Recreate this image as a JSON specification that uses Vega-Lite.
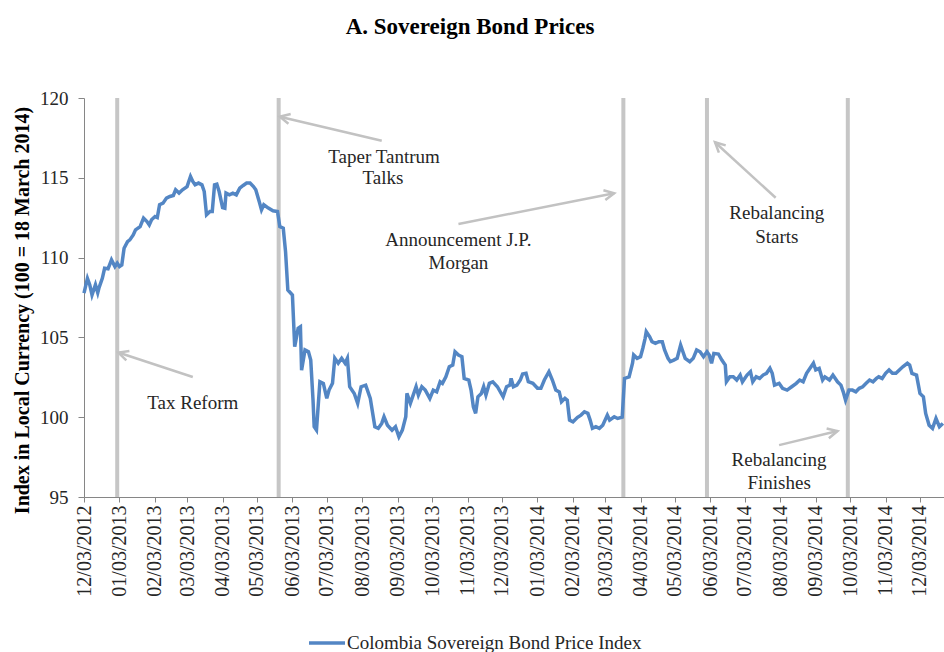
{
  "$schema": "https://vega.github.io/schema/vega-lite/v6.json",
  "width": 860,
  "height": 399,
  "autosize": "none",
  "padding": {"left": 84, "top": 98, "right": 0, "bottom": 155},
  "background": "white",
  "config": {
    "view": {"stroke": null},
    "font": "Liberation Serif",
    "axisX": {
      "domainColor": "#868686", "domainWidth": 1, "tickColor": "#868686", "tickSize": 5,
      "labelFont": "Liberation Serif", "labelFontSize": 20, "labelColor": "#262626",
      "labelAngle": -90, "labelPadding": 3, "labelOverlap": false, "labelBound": false, "labelFlush": false, "grid": false
    },
    "axisY": {
      "domainColor": "#868686", "domainWidth": 1, "tickColor": "#868686", "tickSize": 6,
      "labelFont": "Liberation Serif", "labelFontSize": 19, "labelColor": "#262626", "labelPadding": 10,
      "grid": false, "titleFont": "Liberation Serif", "titleFontSize": 20, "titleFontWeight": "bold",
      "titleColor": "#000000", "titleX": -56, "titleY": 212, "titleAngle": -90, "titleBaseline": "alphabetic", "titleAlign": "center"
    }
  },
  "title": {
    "text": "A. Sovereign Bond Prices", "font": "Liberation Serif", "fontSize": 23, "fontWeight": "bold",
    "color": "#000000", "anchor": "middle", "dx": -44, "offset": 32, "baseline": "alphabetic"
  },
  "datasets": {
    "events": [
      {"date": "2013-01-01", "event": "Tax Reform"},
      {"date": "2013-05-22", "event": "Taper Tantrum Talks"},
      {"date": "2014-03-19", "event": "Announcement J.P. Morgan"},
      {"date": "2014-05-31", "event": "Rebalancing Starts"},
      {"date": "2014-10-01", "event": "Rebalancing Finishes"}
    ],
    "arrows": [
      {"id": "taper", "date": "2013-08-20", "value": 117.32, "date2": "2013-05-23", "value2": 118.83},
      {"id": "tax", "date": "2013-03-08", "value": 102.52, "date2": "2013-01-02", "value2": 104.05},
      {"id": "jpm", "date": "2013-10-26", "value": 112.11, "date2": "2014-03-11", "value2": 114.03},
      {"id": "rebs", "date": "2014-07-30", "value": 113.75, "date2": "2014-06-07", "value2": 117.23},
      {"id": "rebf", "date": "2014-08-02", "value": 98.25, "date2": "2014-09-22", "value2": 99.13}
    ],
    "labels": [
      {"date": "2013-08-22", "value": 116.32, "text": "Taper Tantrum"},
      {"date": "2013-08-21", "value": 115.0, "text": "Talks"},
      {"date": "2013-03-08", "value": 100.88, "text": "Tax Reform"},
      {"date": "2013-10-26", "value": 111.11, "text": "Announcement J.P."},
      {"date": "2013-10-26", "value": 109.69, "text": "Morgan"},
      {"date": "2014-07-31", "value": 112.79, "text": "Rebalancing"},
      {"date": "2014-07-31", "value": 111.32, "text": "Starts"},
      {"date": "2014-08-02", "value": 97.31, "text": "Rebalancing"},
      {"date": "2014-08-02", "value": 95.88, "text": "Finishes"}
    ],
    "series": [
      {"date": "2012-12-03", "value": 107.77}, {"date": "2012-12-06", "value": 108.7}, {"date": "2012-12-08", "value": 108.3},
      {"date": "2012-12-10", "value": 107.66}, {"date": "2012-12-13", "value": 108.3}, {"date": "2012-12-15", "value": 107.8},
      {"date": "2012-12-16", "value": 108.08}, {"date": "2012-12-19", "value": 108.7}, {"date": "2012-12-21", "value": 109.33},
      {"date": "2012-12-24", "value": 109.3}, {"date": "2012-12-27", "value": 109.86}, {"date": "2012-12-30", "value": 109.44},
      {"date": "2013-01-01", "value": 109.65}, {"date": "2013-01-03", "value": 109.44}, {"date": "2013-01-05", "value": 109.54},
      {"date": "2013-01-07", "value": 110.59}, {"date": "2013-01-10", "value": 111.0}, {"date": "2013-01-12", "value": 111.11},
      {"date": "2013-01-15", "value": 111.42}, {"date": "2013-01-17", "value": 111.74}, {"date": "2013-01-21", "value": 111.94},
      {"date": "2013-01-24", "value": 112.47}, {"date": "2013-01-27", "value": 112.26}, {"date": "2013-01-29", "value": 112.05},
      {"date": "2013-01-31", "value": 112.37}, {"date": "2013-02-03", "value": 112.57}, {"date": "2013-02-05", "value": 112.51},
      {"date": "2013-02-07", "value": 113.31}, {"date": "2013-02-10", "value": 113.41}, {"date": "2013-02-13", "value": 113.73},
      {"date": "2013-02-16", "value": 113.83}, {"date": "2013-02-19", "value": 113.89}, {"date": "2013-02-21", "value": 114.25},
      {"date": "2013-02-24", "value": 114.04}, {"date": "2013-02-27", "value": 114.25}, {"date": "2013-03-03", "value": 114.45},
      {"date": "2013-03-06", "value": 115.08}, {"date": "2013-03-08", "value": 114.77}, {"date": "2013-03-10", "value": 114.56},
      {"date": "2013-03-13", "value": 114.67}, {"date": "2013-03-16", "value": 114.56}, {"date": "2013-03-18", "value": 114.14},
      {"date": "2013-03-20", "value": 112.68}, {"date": "2013-03-23", "value": 112.89}, {"date": "2013-03-25", "value": 112.89},
      {"date": "2013-03-27", "value": 114.56}, {"date": "2013-03-29", "value": 114.6}, {"date": "2013-03-31", "value": 114.14},
      {"date": "2013-04-03", "value": 113.14}, {"date": "2013-04-05", "value": 113.1}, {"date": "2013-04-06", "value": 114.04},
      {"date": "2013-04-09", "value": 113.93}, {"date": "2013-04-12", "value": 114.04}, {"date": "2013-04-15", "value": 113.93},
      {"date": "2013-04-18", "value": 114.35}, {"date": "2013-04-21", "value": 114.52}, {"date": "2013-04-24", "value": 114.67},
      {"date": "2013-04-27", "value": 114.67}, {"date": "2013-04-30", "value": 114.45}, {"date": "2013-05-02", "value": 114.25},
      {"date": "2013-05-05", "value": 113.51}, {"date": "2013-05-07", "value": 112.99}, {"date": "2013-05-09", "value": 113.31},
      {"date": "2013-05-13", "value": 113.1}, {"date": "2013-05-17", "value": 112.93}, {"date": "2013-05-21", "value": 112.89},
      {"date": "2013-05-23", "value": 111.94}, {"date": "2013-05-26", "value": 111.84}, {"date": "2013-05-28", "value": 110.38},
      {"date": "2013-05-30", "value": 107.97}, {"date": "2013-06-03", "value": 107.66}, {"date": "2013-06-05", "value": 104.42},
      {"date": "2013-06-08", "value": 105.57}, {"date": "2013-06-10", "value": 105.67}, {"date": "2013-06-11", "value": 102.95},
      {"date": "2013-06-14", "value": 104.21}, {"date": "2013-06-17", "value": 104.1}, {"date": "2013-06-19", "value": 103.58},
      {"date": "2013-06-21", "value": 101.07}, {"date": "2013-06-22", "value": 99.4}, {"date": "2013-06-24", "value": 99.19},
      {"date": "2013-06-27", "value": 102.22}, {"date": "2013-06-30", "value": 102.12}, {"date": "2013-07-03", "value": 101.18},
      {"date": "2013-07-05", "value": 101.7}, {"date": "2013-07-08", "value": 102.12}, {"date": "2013-07-10", "value": 103.69},
      {"date": "2013-07-13", "value": 103.38}, {"date": "2013-07-16", "value": 103.69}, {"date": "2013-07-19", "value": 103.38},
      {"date": "2013-07-21", "value": 103.69}, {"date": "2013-07-23", "value": 101.91}, {"date": "2013-07-27", "value": 101.49},
      {"date": "2013-07-30", "value": 100.87}, {"date": "2013-08-02", "value": 101.91}, {"date": "2013-08-06", "value": 102.01},
      {"date": "2013-08-10", "value": 101.18}, {"date": "2013-08-14", "value": 99.4}, {"date": "2013-08-17", "value": 99.3},
      {"date": "2013-08-20", "value": 99.61}, {"date": "2013-08-22", "value": 100.03}, {"date": "2013-08-25", "value": 99.5},
      {"date": "2013-08-29", "value": 99.19}, {"date": "2013-09-01", "value": 99.4}, {"date": "2013-09-04", "value": 98.77},
      {"date": "2013-09-07", "value": 99.19}, {"date": "2013-09-10", "value": 100.03}, {"date": "2013-09-11", "value": 101.49},
      {"date": "2013-09-14", "value": 100.87}, {"date": "2013-09-19", "value": 101.91}, {"date": "2013-09-21", "value": 101.39},
      {"date": "2013-09-24", "value": 101.91}, {"date": "2013-09-27", "value": 101.7}, {"date": "2013-10-01", "value": 101.18},
      {"date": "2013-10-04", "value": 101.7}, {"date": "2013-10-07", "value": 101.59}, {"date": "2013-10-10", "value": 102.22},
      {"date": "2013-10-12", "value": 102.12}, {"date": "2013-10-15", "value": 102.53}, {"date": "2013-10-18", "value": 103.16},
      {"date": "2013-10-21", "value": 103.27}, {"date": "2013-10-23", "value": 104.1}, {"date": "2013-10-26", "value": 103.89},
      {"date": "2013-10-29", "value": 103.79}, {"date": "2013-10-31", "value": 102.43}, {"date": "2013-11-04", "value": 102.33},
      {"date": "2013-11-06", "value": 101.7}, {"date": "2013-11-08", "value": 100.65}, {"date": "2013-11-10", "value": 100.24},
      {"date": "2013-11-12", "value": 101.28}, {"date": "2013-11-15", "value": 101.49}, {"date": "2013-11-17", "value": 101.91},
      {"date": "2013-11-19", "value": 101.39}, {"date": "2013-11-22", "value": 102.12}, {"date": "2013-11-25", "value": 102.22},
      {"date": "2013-11-29", "value": 101.91}, {"date": "2013-12-04", "value": 101.28}, {"date": "2013-12-07", "value": 101.91},
      {"date": "2013-12-10", "value": 102.01}, {"date": "2013-12-11", "value": 102.43}, {"date": "2013-12-13", "value": 101.91},
      {"date": "2013-12-16", "value": 102.01}, {"date": "2013-12-19", "value": 102.33}, {"date": "2013-12-21", "value": 102.7},
      {"date": "2013-12-24", "value": 102.75}, {"date": "2013-12-26", "value": 102.22}, {"date": "2013-12-30", "value": 102.12},
      {"date": "2014-01-03", "value": 101.81}, {"date": "2014-01-06", "value": 101.81}, {"date": "2014-01-09", "value": 102.33},
      {"date": "2014-01-13", "value": 102.85}, {"date": "2014-01-16", "value": 102.33}, {"date": "2014-01-19", "value": 101.7},
      {"date": "2014-01-22", "value": 101.59}, {"date": "2014-01-24", "value": 100.97}, {"date": "2014-01-27", "value": 101.18},
      {"date": "2014-01-29", "value": 101.07}, {"date": "2014-01-31", "value": 99.82}, {"date": "2014-02-03", "value": 99.71},
      {"date": "2014-02-07", "value": 99.99}, {"date": "2014-02-10", "value": 100.13}, {"date": "2014-02-13", "value": 100.34},
      {"date": "2014-02-16", "value": 100.24}, {"date": "2014-02-18", "value": 99.82}, {"date": "2014-02-20", "value": 99.3},
      {"date": "2014-02-23", "value": 99.4}, {"date": "2014-02-26", "value": 99.3}, {"date": "2014-03-01", "value": 99.5},
      {"date": "2014-03-05", "value": 100.13}, {"date": "2014-03-07", "value": 99.82}, {"date": "2014-03-11", "value": 100.03},
      {"date": "2014-03-14", "value": 99.92}, {"date": "2014-03-18", "value": 100.0}, {"date": "2014-03-20", "value": 102.43},
      {"date": "2014-03-24", "value": 102.53}, {"date": "2014-03-27", "value": 103.38}, {"date": "2014-03-28", "value": 103.9},
      {"date": "2014-03-31", "value": 103.69}, {"date": "2014-04-03", "value": 103.79}, {"date": "2014-04-05", "value": 104.32},
      {"date": "2014-04-07", "value": 104.94}, {"date": "2014-04-08", "value": 105.36}, {"date": "2014-04-11", "value": 105.04},
      {"date": "2014-04-13", "value": 104.73}, {"date": "2014-04-16", "value": 104.63}, {"date": "2014-04-19", "value": 104.73},
      {"date": "2014-04-22", "value": 104.73}, {"date": "2014-04-24", "value": 104.21}, {"date": "2014-04-27", "value": 103.69},
      {"date": "2014-04-29", "value": 103.48}, {"date": "2014-05-02", "value": 103.58}, {"date": "2014-05-05", "value": 103.69},
      {"date": "2014-05-08", "value": 104.52}, {"date": "2014-05-10", "value": 104.1}, {"date": "2014-05-12", "value": 103.69},
      {"date": "2014-05-16", "value": 103.48}, {"date": "2014-05-19", "value": 103.69}, {"date": "2014-05-22", "value": 104.21},
      {"date": "2014-05-25", "value": 104.1}, {"date": "2014-05-28", "value": 103.79}, {"date": "2014-05-31", "value": 104.1},
      {"date": "2014-06-02", "value": 103.89}, {"date": "2014-06-04", "value": 103.38}, {"date": "2014-06-06", "value": 104.0},
      {"date": "2014-06-10", "value": 103.96}, {"date": "2014-06-13", "value": 103.58}, {"date": "2014-06-16", "value": 103.27},
      {"date": "2014-06-17", "value": 102.22}, {"date": "2014-06-20", "value": 102.53}, {"date": "2014-06-23", "value": 102.53},
      {"date": "2014-06-26", "value": 102.33}, {"date": "2014-06-29", "value": 102.64}, {"date": "2014-07-01", "value": 102.22},
      {"date": "2014-07-05", "value": 102.64}, {"date": "2014-07-08", "value": 102.85}, {"date": "2014-07-10", "value": 102.22},
      {"date": "2014-07-13", "value": 102.53}, {"date": "2014-07-16", "value": 102.43}, {"date": "2014-07-19", "value": 102.64},
      {"date": "2014-07-22", "value": 102.75}, {"date": "2014-07-25", "value": 103.06}, {"date": "2014-07-27", "value": 102.75},
      {"date": "2014-07-29", "value": 102.01}, {"date": "2014-08-02", "value": 102.12}, {"date": "2014-08-05", "value": 101.81},
      {"date": "2014-08-09", "value": 101.7}, {"date": "2014-08-13", "value": 101.91}, {"date": "2014-08-17", "value": 102.12},
      {"date": "2014-08-20", "value": 102.33}, {"date": "2014-08-23", "value": 102.22}, {"date": "2014-08-26", "value": 102.75},
      {"date": "2014-08-29", "value": 103.06}, {"date": "2014-09-01", "value": 103.38}, {"date": "2014-09-03", "value": 102.96},
      {"date": "2014-09-06", "value": 103.06}, {"date": "2014-09-09", "value": 102.33}, {"date": "2014-09-11", "value": 102.53},
      {"date": "2014-09-15", "value": 102.33}, {"date": "2014-09-18", "value": 102.64}, {"date": "2014-09-22", "value": 102.22},
      {"date": "2014-09-25", "value": 102.01}, {"date": "2014-09-27", "value": 101.59}, {"date": "2014-09-29", "value": 101.07},
      {"date": "2014-10-02", "value": 101.7}, {"date": "2014-10-05", "value": 101.7}, {"date": "2014-10-08", "value": 101.59},
      {"date": "2014-10-11", "value": 101.81}, {"date": "2014-10-14", "value": 101.91}, {"date": "2014-10-17", "value": 102.12},
      {"date": "2014-10-20", "value": 102.33}, {"date": "2014-10-23", "value": 102.22}, {"date": "2014-10-26", "value": 102.43},
      {"date": "2014-10-28", "value": 102.53}, {"date": "2014-10-31", "value": 102.43}, {"date": "2014-11-03", "value": 102.75},
      {"date": "2014-11-06", "value": 102.96}, {"date": "2014-11-09", "value": 102.75}, {"date": "2014-11-12", "value": 102.75},
      {"date": "2014-11-15", "value": 102.96}, {"date": "2014-11-18", "value": 103.16}, {"date": "2014-11-22", "value": 103.38},
      {"date": "2014-11-24", "value": 103.27}, {"date": "2014-11-26", "value": 102.75}, {"date": "2014-11-30", "value": 102.64},
      {"date": "2014-12-03", "value": 101.49}, {"date": "2014-12-06", "value": 101.28}, {"date": "2014-12-08", "value": 100.24},
      {"date": "2014-12-11", "value": 99.5}, {"date": "2014-12-14", "value": 99.3}, {"date": "2014-12-17", "value": 99.92},
      {"date": "2014-12-20", "value": 99.4}, {"date": "2014-12-23", "value": 99.61}
    ]
  },
  "layer": [
    {
      "data": {"name": "events"},
      "mark": {"type": "rule", "color": "#c6c6c6", "strokeWidth": 4},
      "encoding": {
        "x": {"field": "date", "type": "temporal", "scale": {"type": "utc", "domain": ["2012-12-03", "2014-12-24"]}, "axis": {"title": null, "labelOverlap": false, "tickCount": 40}}
      }
    },
    {
      "data": {"name": "arrows"},
      "mark": {"type": "rule", "color": "#c2c2c2", "strokeWidth": 2.5},
      "encoding": {
        "x": {"field": "date", "type": "temporal", "scale": {"type": "utc", "domain": ["2012-12-03", "2014-12-24"]}, "axis": {"title": null, "labelOverlap": false, "tickCount": 40}},
        "y": {"field": "value", "type": "quantitative", "scale": {"domain": [95, 120], "nice": false, "zero": false}, "axis": {"title": "Index in Local Currency (100 = 18 March 2014)"}},
        "x2": {"field": "date2"},
        "y2": {"field": "value2"}
      }
    },
    {
      "data": {"name": "arrows"},
      "transform": [{"filter": "datum.id == 'taper'"}],
      "mark": {"type": "point", "shape": "M-2,-1L0,0L-2,1", "filled": false, "stroke": "#c2c2c2", "strokeWidth": 2.5, "size": 100, "angle": 193, "opacity": 1},
      "encoding": {
        "x": {"field": "date2", "type": "temporal"},
        "y": {"field": "value2", "type": "quantitative"}
      }
    },
    {
      "data": {"name": "arrows"},
      "transform": [{"filter": "datum.id == 'tax'"}],
      "mark": {"type": "point", "shape": "M-2,-1L0,0L-2,1", "filled": false, "stroke": "#c2c2c2", "strokeWidth": 2.5, "size": 100, "angle": 198, "opacity": 1},
      "encoding": {
        "x": {"field": "date2", "type": "temporal"},
        "y": {"field": "value2", "type": "quantitative"}
      }
    },
    {
      "data": {"name": "arrows"},
      "transform": [{"filter": "datum.id == 'jpm'"}],
      "mark": {"type": "point", "shape": "M-2,-1L0,0L-2,1", "filled": false, "stroke": "#c2c2c2", "strokeWidth": 2.5, "size": 100, "angle": 349, "opacity": 1},
      "encoding": {
        "x": {"field": "date2", "type": "temporal"},
        "y": {"field": "value2", "type": "quantitative"}
      }
    },
    {
      "data": {"name": "arrows"},
      "transform": [{"filter": "datum.id == 'rebs'"}],
      "mark": {"type": "point", "shape": "M-2,-1L0,0L-2,1", "filled": false, "stroke": "#c2c2c2", "strokeWidth": 2.5, "size": 100, "angle": 223, "opacity": 1},
      "encoding": {
        "x": {"field": "date2", "type": "temporal"},
        "y": {"field": "value2", "type": "quantitative"}
      }
    },
    {
      "data": {"name": "arrows"},
      "transform": [{"filter": "datum.id == 'rebf'"}],
      "mark": {"type": "point", "shape": "M-2,-1L0,0L-2,1", "filled": false, "stroke": "#c2c2c2", "strokeWidth": 2.5, "size": 100, "angle": 347, "opacity": 1},
      "encoding": {
        "x": {"field": "date2", "type": "temporal"},
        "y": {"field": "value2", "type": "quantitative"}
      }
    },
    {
      "data": {"name": "labels"},
      "mark": {"type": "text", "font": "Liberation Serif", "fontSize": 19, "color": "#262626", "align": "center", "baseline": "middle"},
      "encoding": {
        "x": {"field": "date", "type": "temporal"},
        "y": {"field": "value", "type": "quantitative"},
        "text": {"field": "text"}
      }
    },
    {
      "data": {"name": "series"},
      "mark": {"type": "line", "strokeWidth": 3.5, "interpolate": "linear"},
      "encoding": {
        "x": {
          "field": "date", "type": "temporal",
          "scale": {"type": "utc", "domain": ["2012-12-03", "2014-12-24"]},
          "axis": {
            "title": null, "format": "%m/%d/%Y", "labelOverlap": false, "tickCount": 40,
            "values": [
              {"year": 2012, "month": 12, "date": 3, "utc": true},
              {"year": 2013, "month": 1, "date": 3, "utc": true},
              {"year": 2013, "month": 2, "date": 3, "utc": true},
              {"year": 2013, "month": 3, "date": 3, "utc": true},
              {"year": 2013, "month": 4, "date": 3, "utc": true},
              {"year": 2013, "month": 5, "date": 3, "utc": true},
              {"year": 2013, "month": 6, "date": 3, "utc": true},
              {"year": 2013, "month": 7, "date": 3, "utc": true},
              {"year": 2013, "month": 8, "date": 3, "utc": true},
              {"year": 2013, "month": 9, "date": 3, "utc": true},
              {"year": 2013, "month": 10, "date": 3, "utc": true},
              {"year": 2013, "month": 11, "date": 3, "utc": true},
              {"year": 2013, "month": 12, "date": 3, "utc": true},
              {"year": 2014, "month": 1, "date": 3, "utc": true},
              {"year": 2014, "month": 2, "date": 3, "utc": true},
              {"year": 2014, "month": 3, "date": 3, "utc": true},
              {"year": 2014, "month": 4, "date": 3, "utc": true},
              {"year": 2014, "month": 5, "date": 3, "utc": true},
              {"year": 2014, "month": 6, "date": 3, "utc": true},
              {"year": 2014, "month": 7, "date": 3, "utc": true},
              {"year": 2014, "month": 8, "date": 3, "utc": true},
              {"year": 2014, "month": 9, "date": 3, "utc": true},
              {"year": 2014, "month": 10, "date": 3, "utc": true},
              {"year": 2014, "month": 11, "date": 3, "utc": true},
              {"year": 2014, "month": 12, "date": 3, "utc": true}
            ]
          }
        },
        "y": {
          "field": "value", "type": "quantitative",
          "scale": {"domain": [95, 120], "nice": false, "zero": false},
          "axis": {"title": "Index in Local Currency (100 = 18 March 2014)", "values": [95, 100, 105, 110, 115, 120]}
        },
        "color": {
          "datum": "Colombia Sovereign Bond Price Index", "type": "nominal",
          "scale": {"range": ["#5386C4"]},
          "legend": {
            "title": null, "orient": "none", "legendX": 223, "legendY": 525, "padding": 0,
            "symbolType": "stroke", "symbolSize": 1296, "symbolStrokeWidth": 3.5,
            "labelFont": "Liberation Serif", "labelFontSize": 19, "labelColor": "#262626", "labelOffset": 0, "labelLimit": 0
          }
        }
      }
    }
  ]
}
